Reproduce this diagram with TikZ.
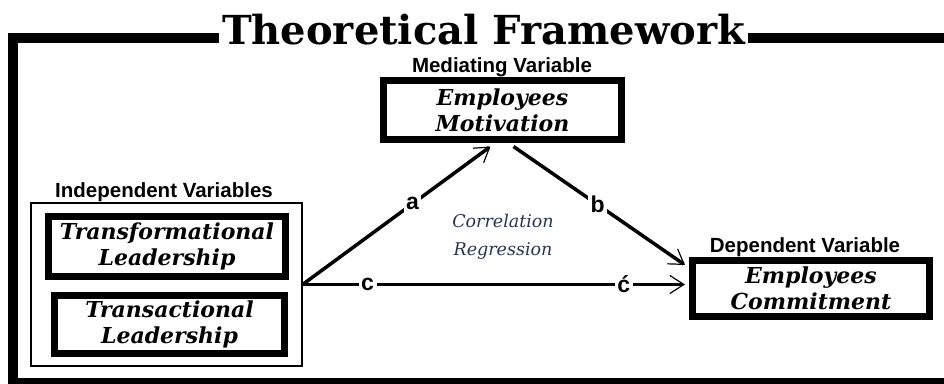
\documentclass[tikz,border=0pt]{standalone}
\usepackage{fontspec}
\setmainfont{DejaVu Serif}
\newfontfamily\lsans{Liberation Sans}
\usetikzlibrary{arrows.meta,calc}
\definecolor{corrblue}{RGB}{38,52,86}
\tikzset{
  varbox/.style={draw=black, line width=7pt, fill=white, align=center, inner sep=0pt,
    font=\fontsize{22}{26}\selectfont\bfseries\itshape},
  varlabel/.style={font=\lsans\fontsize{20.5}{22}\selectfont\bfseries, inner sep=0pt},
  pathlabel/.style={font=\lsans\fontsize{23}{24}\selectfont\bfseries, fill=white, inner sep=2.5pt},
  link/.style={line width=3.5pt, -{Straight Barb[length=14pt,width=18pt,line width=1.2pt]}},
}
\begin{document}
\begin{tikzpicture}[x=1pt,y=-1pt]
\useasboundingbox (0,0) rectangle (944,383);
\clip (0,0) rectangle (944,383);
\fill[white] (0,0) rectangle (944,383);
% outer frame
\draw[line width=10pt] (960,38) -- (12.5,38) -- (12.5,383) -- (960,383);
\node[font=\fontsize{40}{42}\selectfont\bfseries, fill=white, inner xsep=3pt, inner ysep=2pt, anchor=base] (title) at (483.5,44) {Theoretical Framework};

% independent variables
\node[draw=black, line width=1.2pt, minimum width=271pt, minimum height=163pt, inner sep=0pt] (ivbox) at (166.5,284.5) {};
\node[varlabel] (ivlab) at (164,192) {Independent Variables};
\node[varbox, minimum width=237pt, minimum height=60pt] (tf) at (167,246.5) {Transformational\\Leadership};
\node[varbox, minimum width=230pt, minimum height=58pt] (ta) at (169.5,324.5) {Transactional\\Leadership};

% mediating
\node[varlabel] (medlab) at (502,67) {Mediating Variable};
\node[varbox, minimum width=238pt, minimum height=59pt] (mot) at (502.5,110) {Employees\\Motivation};

% dependent
\node[varlabel] (deplab) at (805,247) {Dependent Variable};
\node[varbox, minimum width=237pt, minimum height=56pt] (com) at (811,288.5) {Employees\\Commitment};

% correlation text
\node[font=\fontsize{17.5}{28}\selectfont\itshape, text=corrblue, align=center] (corr) at (503,237) {Correlation\\Regression};

% connectors
\coordinate (o) at (ivbox.east);
\coordinate (atip) at ($(mot.south)+(-12,3.5)$);
\coordinate (bstart) at ($(mot.south)+(11,3.5)$);
\coordinate (btip) at ($(com.north west)+(-4,8)$);
\coordinate (ctip) at (btip |- o);
\draw[link] (o) -- node[pathlabel, pos=0.585] (la) {a} (atip);
\draw[link] (bstart) -- node[pathlabel, pos=0.49] (lb) {b} (btip);
\draw[link] (o) -- node[pathlabel, pos=0.17] (lc) {c} node[pathlabel, pos=0.84] (lc2) {ć} (ctip);
\end{tikzpicture}
\end{document}
